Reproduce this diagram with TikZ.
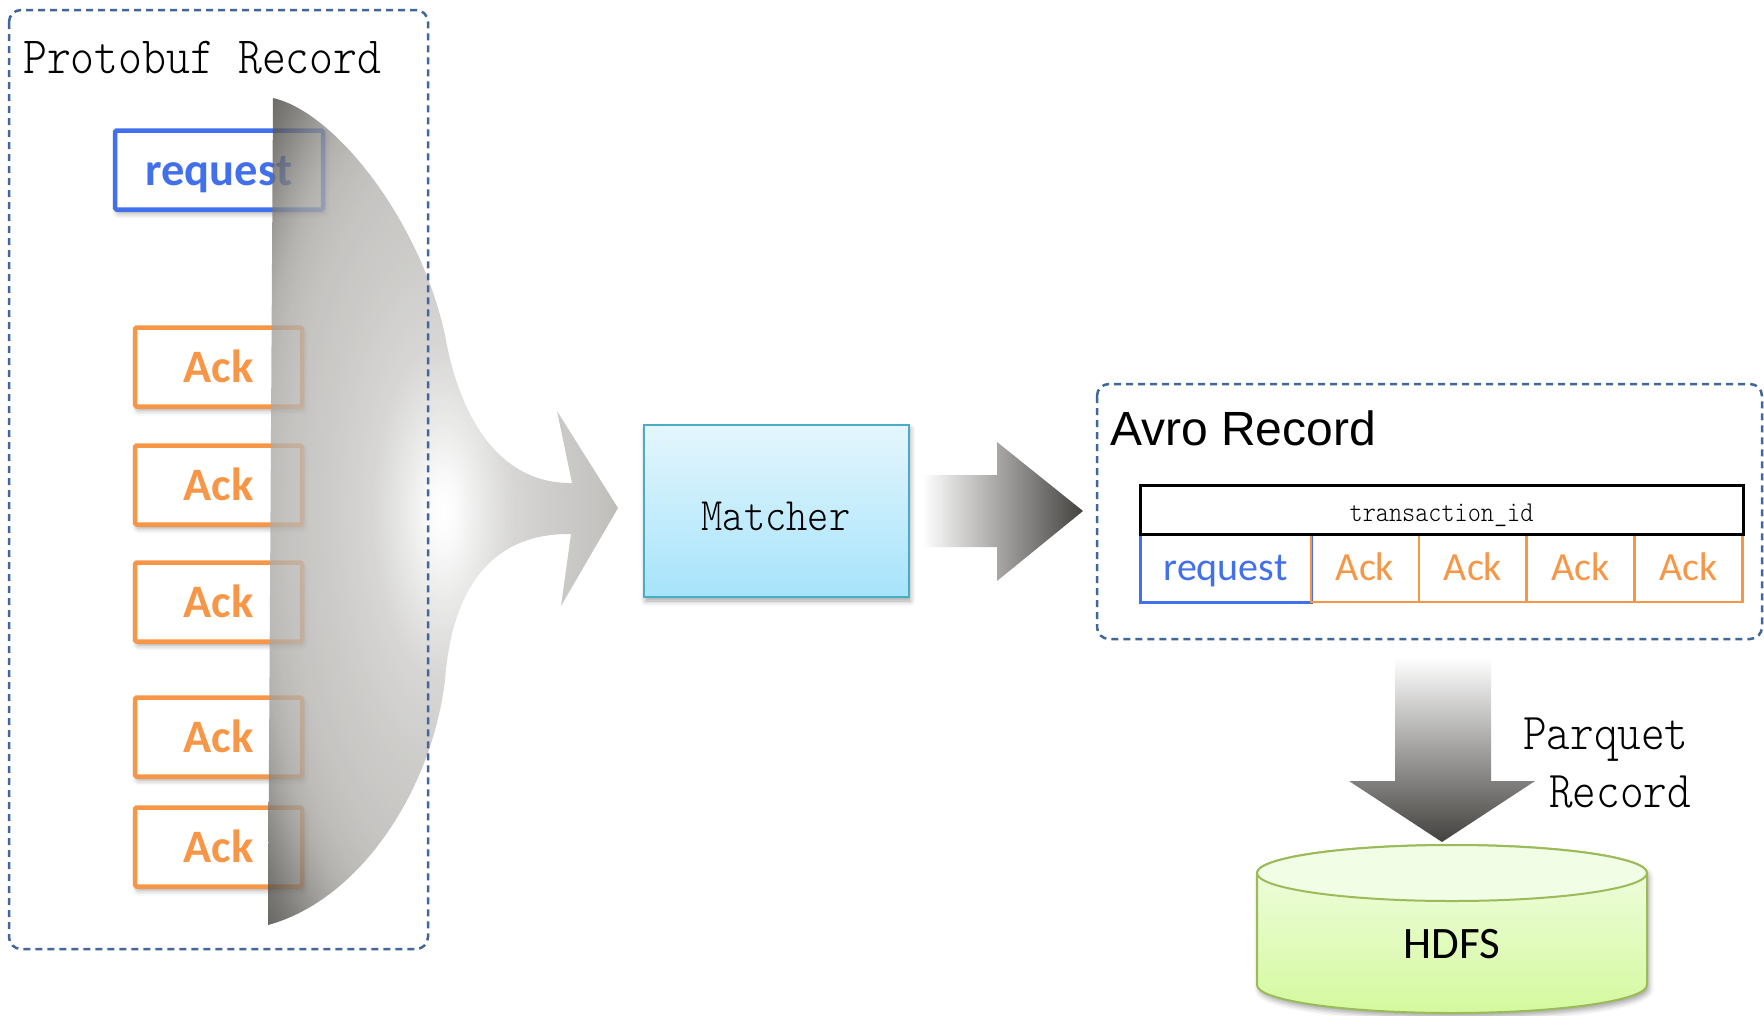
\documentclass[tikz,border=0pt]{standalone}
\usepackage{fontspec}
\usepackage{graphicx}
\usetikzlibrary{shadows.blur}

\newfontfamily\calibri{Carlito}
\newfontfamily\arialfont{Liberation Sans}
\newfontfamily\monoserif{lmmonolt10-regular.otf}

% palette
\definecolor{reqblue}{RGB}{66,112,236}
\definecolor{ackorange}{RGB}{247,150,70}
\definecolor{dashblue}{RGB}{65,103,154}
\definecolor{matchborder}{RGB}{75,172,198}
\definecolor{matchtop}{RGB}{228,246,253}
\definecolor{matchbot}{RGB}{166,227,251}
\definecolor{hdfsborder}{RGB}{155,187,89}
\definecolor{hdfstop}{RGB}{242,253,230}
\definecolor{hdfsbot}{RGB}{212,249,158}
\definecolor{arrowdark}{RGB}{68,66,63}
\definecolor{fanA}{RGB}{249,249,249}
\definecolor{fanB}{RGB}{231,231,230}
\definecolor{fanC}{RGB}{205,204,202}
\definecolor{fanD}{RGB}{192,191,188}
\definecolor{fanE}{RGB}{183,181,178}
\definecolor{fanF}{RGB}{173,171,167}
\definecolor{fanG}{RGB}{161,159,155}
\definecolor{fanH}{RGB}{141,139,135}
\definecolor{fanI}{RGB}{116,114,110}
\definecolor{fanJ}{RGB}{91,89,85}
\definecolor{fanK}{RGB}{66,64,59}

% merging fan: bright centre, darker towards the top and bottom
\pgfdeclareradialshading{fanshade}{\pgfpoint{0bp}{0bp}}{%
  color(0bp)=(white); color(2bp)=(fanA); color(5bp)=(fanB);
  color(10bp)=(fanC); color(16bp)=(fanD); color(22bp)=(fanE);
  color(25bp)=(fanF); color(27bp)=(fanG); color(29bp)=(fanH);
  color(31bp)=(fanI); color(33bp)=(fanJ); color(35.5bp)=(fanK);
  color(50bp)=(fanK)}

% serif monospaced lettering, slightly tall
\newcommand\monotext[2]{{\monoserif\fontsize{#1}{#1}\selectfont\scalebox{1}[1.15]{#2}}}

\tikzset{
  softshadow/.style={blur shadow={shadow xshift=2pt, shadow yshift=-4pt,
      shadow blur radius=5pt, shadow opacity=35}},
  groupbox/.style={draw=dashblue, line width=2.5pt, dash pattern=on 7pt off 5pt,
      rounded corners=12pt},
  recbox/.style={line width=4.5pt, fill=white, rounded corners=1.5pt,
      minimum width=167pt, minimum height=79pt, inner sep=0pt,
      text height=30pt, text depth=0pt,
      font=\calibri\bfseries\fontsize{46.5}{46.5}\selectfont, softshadow},
  cell/.style={minimum height=68pt, inner sep=0pt, text height=25.8pt,
      text depth=0pt, font=\calibri\fontsize{40}{40}\selectfont},
}

\begin{document}
\begin{tikzpicture}[x=1pt,y=-1pt]
\useasboundingbox (0,0) rectangle (1764,1015);

% ---------- Protobuf side ----------
\node (pbtitle) [anchor=base west, inner sep=0pt] at (23,73)
  {\monotext{45.5}{Protobuf Record}};

\node (req) [recbox, draw=reqblue, text=reqblue, minimum width=208pt] at (219,170) {request};
\foreach \yy/\nn in {367/ack1, 485/ack2, 602/ack3, 737/ack4, 847/ack5}
  \node (\nn) [recbox, draw=ackorange, text=ackorange] at (218.5,\yy) {Ack};

% fan that gathers the records into one arrow
\shade[shading=fanshade, fill opacity=0.8]
  (273,98) .. controls (335,112) and (420,220) .. (445,335)
  .. controls (458,410) and (495,484) .. (572,483)
  -- (557,411) -- (618,508) -- (561,606) -- (571,534)
  .. controls (490,533) and (452,590) .. (445,680)
  .. controls (432,790) and (360,900) .. (268,925)
  -- cycle;

\draw[groupbox] (9,10) rectangle (428,949);

% ---------- Matcher ----------
\node (matcher) [draw=matchborder, line width=2pt, top color=matchtop,
  bottom color=matchbot, minimum width=265pt, minimum height=172pt,
  inner sep=0pt, text height=38pt, text depth=0pt, softshadow]
  at (776,511) {\monotext{40.5}{Matcher}};

\shade[left color=white, right color=arrowdark]
  (922,475) -- (997,475) -- (997,442) -- (1083,511) -- (997,581)
  -- (997,547) -- (922,547) -- cycle;

% ---------- Avro record ----------
\draw[groupbox] (1097,384) rectangle (1762,639);
\node (avrotitle) [anchor=base west, inner sep=0pt] at (1110,445)
  {\arialfont\fontsize{48}{48}\selectfont Avro Record};

\node (reqcell) [cell, draw=reqblue, line width=3pt, text=reqblue,
  minimum width=171pt] at (1225.5,568) {request};
\foreach \xx/\nn in {1365/cellA, 1473/cellB, 1580.5/cellC, 1688.5/cellD}
  \node (\nn) [cell, draw=ackorange, line width=2.5pt, text=ackorange,
    minimum width=108pt] at (\xx,568) {Ack};
\node (txrow) [draw=black, line width=3pt, minimum width=603pt,
  minimum height=49pt, inner sep=0pt, text height=24pt, text depth=0pt]
  at (1441.5,509.5) {\monotext{25}{transaction\_id}};

% ---------- Parquet / HDFS ----------
\shade[top color=white, bottom color=arrowdark]
  (1395,657) -- (1395,781) -- (1349,781) -- (1442,842) -- (1535,781)
  -- (1491,781) -- (1491,657) -- cycle;

\node (parq1) [anchor=base west, inner sep=0pt] at (1523,749) {\monotext{45}{Parquet}};
\node (parq2) [anchor=base west, inner sep=0pt] at (1549,807) {\monotext{45}{Record}};

\path[draw=hdfsborder, line width=2pt, top color=hdfstop, bottom color=hdfsbot, softshadow]
  (1257,873) -- (1257,985) arc[start angle=180, end angle=0, x radius=195, y radius=28]
  -- (1647,873) arc[start angle=0, end angle=-180, x radius=195, y radius=28] -- cycle;
\draw[hdfsborder, line width=2pt, fill=hdfstop] (1452,873) ellipse [x radius=195, y radius=28];
\node (hdfs) [anchor=base, inner sep=0pt] at (1452,958)
  {\calibri\fontsize{45}{45}\selectfont HDFS};
\end{tikzpicture}
\end{document}
